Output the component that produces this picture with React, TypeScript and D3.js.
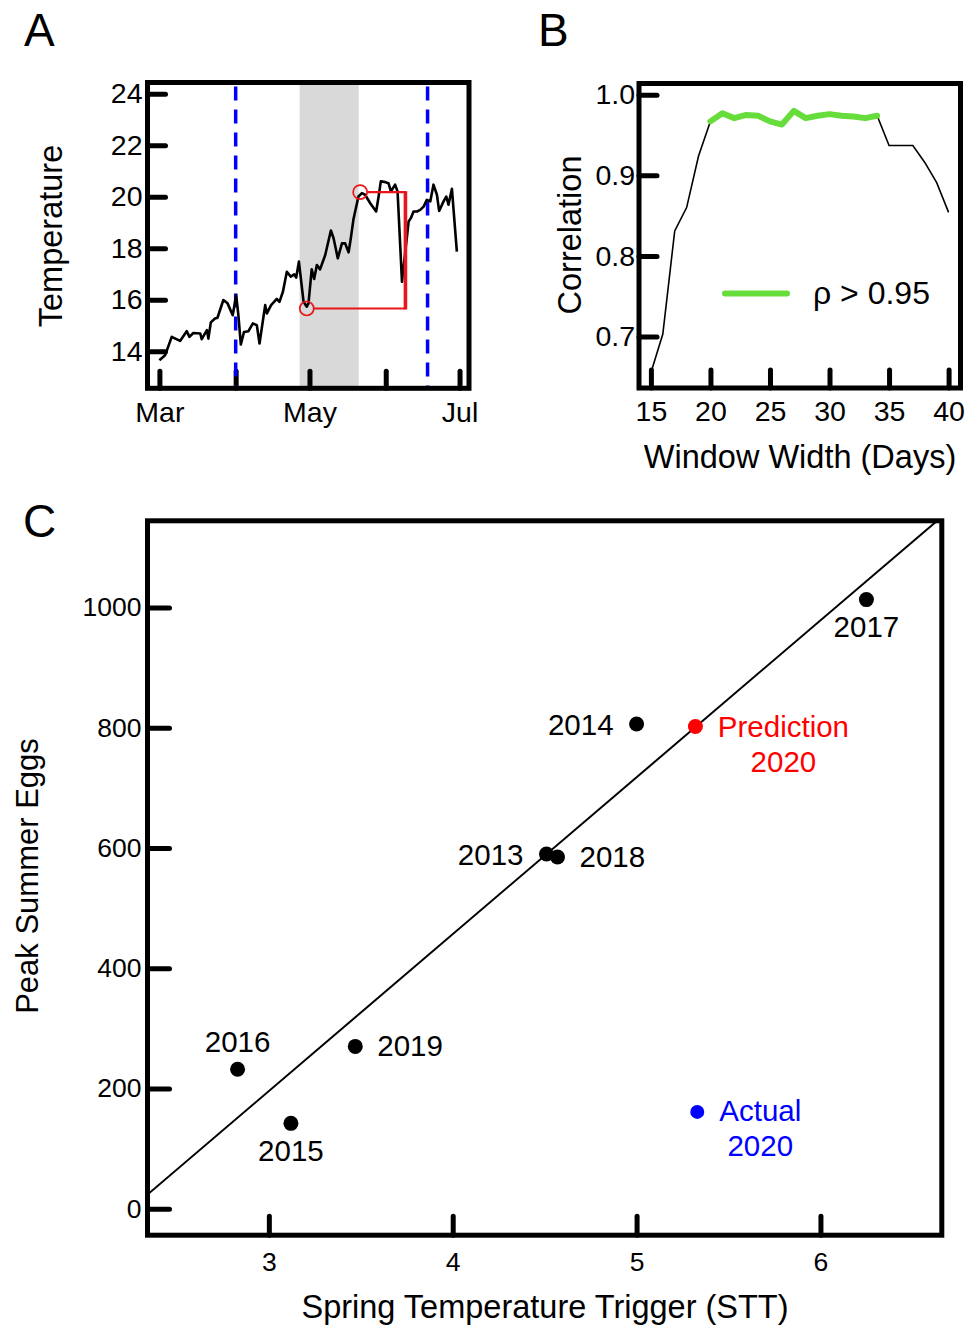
import React, { useEffect, useRef } from 'react';
import * as d3 from 'd3';

const FONT = '"Liberation Sans", Arial, Helvetica, sans-serif';

// A: daily water temperature, days counted from 1 March 2020
const tempDays = [
  0, 2.3, 5.0, 8.4, 11.1, 12.2, 13.8, 16.6, 17.2, 19.3, 19.9, 20.9, 22.6, 23.6, 26.0, 27.7,
  29.8, 31.2, 32.1, 33.1, 34.4, 36.2, 38.0, 39.6, 40.7, 43.0, 43.7, 45.4, 47.7, 48.8, 50.2,
  51.8, 53.4, 54.8, 55.6, 56.7, 58.6, 59.9, 60.6, 61.9, 62.9, 64.0, 65.3, 67.4, 69.7, 70.8,
  72.5, 74.2, 75.5, 76.9, 77.8, 78.9, 80.9, 82.3, 83.6, 85.7, 88.1, 89.1, 90.0, 91.8, 93.1,
  94.1, 95.8, 96.8, 98.6, 101.3, 102.2, 103.3, 104.7, 106.0, 107.4, 108.7, 110.1, 111.4,
  112.8, 113.7, 115.5, 116.6, 117.5, 118.9, 120.9
];
const tempValues = [
  13.65, 13.84, 14.56, 14.40, 14.78, 14.56, 14.71, 14.69, 14.47, 14.82, 14.49, 15.12, 15.27,
  15.30, 15.99, 15.86, 15.40, 16.18, 15.40, 14.26, 14.75, 14.78, 15.08, 15.01, 14.30, 15.79,
  15.47, 15.79, 16.03, 15.92, 16.31, 17.09, 16.90, 16.99, 16.86, 17.48, 15.92, 15.73, 15.86,
  17.18, 16.81, 17.35, 17.18, 17.74, 18.69, 18.39, 17.61, 18.19, 18.19, 17.84, 18.39, 19.14,
  20.01, 20.14, 20.08, 19.75, 19.43, 20.01, 20.60, 20.57, 20.53, 20.21, 20.47, 20.21, 16.70,
  19.04, 19.17, 19.43, 19.43, 19.49, 19.62, 19.88, 19.82, 20.47, 20.08, 19.45, 19.82, 20.01,
  19.69, 20.31, 17.87
];
const tempRange = ['2020-03-01', '2020-06-30'];
const tempYLim = [13, 24];
const tempYTicks = [14, 16, 18, 20, 22, 24];
const monthTicks = ['2020-03-01', '2020-04-01', '2020-05-01', '2020-06-01', '2020-07-01'];
const monthLabels = ['Mar', '', 'May', '', 'Jul'];
const dashedDates = ['2020-04-01', '2020-06-18'];
const shadeDates = ['2020-04-27', '2020-05-21'];
const sttDays = [59.9, 81.6, 100]; // low point, high point, end of box
const sttTemps = [15.66, 20.18];

// B: correlation vs window width
const windowWidths = [15, 16, 17, 18, 19, 20, 21, 22, 23, 24, 25, 26, 27, 28, 29, 30, 31, 32, 33, 34, 35, 36, 37, 38, 39, 40];
const correlations = [
  0.655, 0.703, 0.831, 0.86, 0.924, 0.967, 0.977, 0.971, 0.975, 0.974, 0.967, 0.963, 0.98,
  0.971, 0.974, 0.976, 0.974, 0.973, 0.971, 0.974, 0.937, 0.937, 0.937, 0.916, 0.891, 0.854
];
const corrThreshold = 0.95;
const corrXLim = [15, 40];
const corrYLim = [0.65, 1.0];
const corrXTicks = [15, 20, 25, 30, 35, 40];
const corrYTicks = [0.7, 0.8, 0.9, 1.0];

// C: peak summer eggs vs spring temperature trigger
const years = ['2013', '2014', '2015', '2016', '2017', '2018', '2019'];
const sttValues = [4.51, 5.0, 3.12, 2.83, 6.25, 4.57, 3.47];
const peakEggs = [590, 806, 142, 232, 1013, 585, 270];
const predSTT = 5.32;
const predEggs = 802;
const actualSTT = 5.33;
const actualEggs = 161;
const fitSlope = 260.9;
const fitIntercept = -587;
const eggXLim = [2.5, 6.5];
const eggYLim = [0, 1100];
const eggXTicks = [3, 4, 5, 6];
const eggYTicks = [0, 200, 400, 600, 800, 1000];

const parse = d3.timeParse('%Y-%m-%d');
const dayOf = (s: string) => d3.timeDay.count(parse(tempRange[0])!, parse(s)!);

// R style axis range: limits padded by 4%
function expand(lim: number[]) {
  const r = lim[1] - lim[0];
  return [lim[0] - 0.04 * r, lim[1] + 0.04 * r];
}

function styleAxis(g: any, size: number) {
  g.select('.domain').remove();
  g.selectAll('line').attr('stroke', '#000').attr('stroke-width', 5).attr('stroke-linecap', 'round');
  g.selectAll('text').attr('font-size', size).attr('font-family', FONT).attr('fill', '#000');
  g.attr('font-size', null).attr('font-family', null);
}

function frame(svg: any, x: any, y: any) {
  const [x0, x1] = x.range();
  const [y0, y1] = y.range();
  svg.append('rect')
    .attr('x', x0).attr('y', y1)
    .attr('width', x1 - x0).attr('height', y0 - y1)
    .attr('fill', 'none').attr('stroke', '#000').attr('stroke-width', 5);
}

function label(svg: any, text: string, x: number, y: number, size: number, rotate = false, anchor = 'middle', color = '#000') {
  svg.append('text')
    .attr('transform', `translate(${x},${y})${rotate ? ' rotate(-90)' : ''}`)
    .attr('text-anchor', anchor)
    .attr('font-size', size)
    .attr('font-family', FONT)
    .attr('fill', color)
    .text(text);
}

function drawA(svg: any) {
  const x = d3.scaleLinear().domain(expand([dayOf(tempRange[0]), dayOf(tempRange[1])])).range([147.5, 469]);
  const y = d3.scaleLinear().domain(expand(tempYLim)).range([388.3, 82.5]);
  const [top, bottom] = [y.range()[1], y.range()[0]];

  svg.append('rect')
    .attr('x', x(dayOf(shadeDates[0]))).attr('y', top)
    .attr('width', x(dayOf(shadeDates[1])) - x(dayOf(shadeDates[0])))
    .attr('height', bottom - top)
    .attr('fill', '#d9d9d9');

  const yAxis = d3.axisLeft(y).tickValues(tempYTicks).tickSize(-18).tickPadding(5);
  styleAxis(svg.append('g').attr('transform', `translate(${x.range()[0]},0)`).call(yAxis), 28.5);
  const xAxis = d3.axisBottom(x)
    .tickValues(monthTicks.map(dayOf))
    .tickFormat((_: any, i: number) => monthLabels[i])
    .tickSize(-17).tickPadding(13);
  styleAxis(svg.append('g').attr('transform', `translate(0,${bottom})`).call(xAxis), 28.5);

  svg.selectAll('line.dash')
    .data(dashedDates)
    .enter()
    .append('line')
    .attr('x1', (d: string) => x(dayOf(d))).attr('x2', (d: string) => x(dayOf(d)))
    .attr('y1', top + 4).attr('y2', bottom)
    .attr('stroke', '#0000ff').attr('stroke-width', 3.5).attr('stroke-dasharray', '14,9');

  const line = d3.line<number>()
    .x((_, i) => x(tempDays[i]))
    .y((d) => y(d));
  svg.append('path')
    .datum(tempValues)
    .attr('fill', 'none').attr('stroke', '#000').attr('stroke-width', 2.6)
    .attr('stroke-linejoin', 'round')
    .attr('d', line);

  const r = 7;
  const red = '#e8161b';
  svg.append('line')
    .attr('x1', x(sttDays[0]) + r).attr('x2', x(sttDays[2]))
    .attr('y1', y(sttTemps[0])).attr('y2', y(sttTemps[0]))
    .attr('stroke', red).attr('stroke-width', 2.2);
  svg.append('line')
    .attr('x1', x(sttDays[1]) + r).attr('x2', x(sttDays[2]))
    .attr('y1', y(sttTemps[1])).attr('y2', y(sttTemps[1]))
    .attr('stroke', red).attr('stroke-width', 2.2);
  svg.append('line')
    .attr('x1', x(sttDays[2])).attr('x2', x(sttDays[2]))
    .attr('y1', y(sttTemps[0]) + 1).attr('y2', y(sttTemps[1]) - 1)
    .attr('stroke', red).attr('stroke-width', 3.6);
  [0, 1].forEach((i) => {
    svg.append('circle')
      .attr('cx', x(sttDays[i])).attr('cy', y(sttTemps[i])).attr('r', r)
      .attr('fill', 'none').attr('stroke', red).attr('stroke-width', 1.7);
  });

  frame(svg, x, y);
  label(svg, 'Temperature', 62, 236, 32.5, true);
  label(svg, 'A', 24, 46, 46, false, 'start');
}

function drawB(svg: any) {
  const x = d3.scaleLinear().domain(expand(corrXLim)).range([639, 960.5]);
  const y = d3.scaleLinear().domain(expand(corrYLim)).range([388, 83.5]);

  const yAxis = d3.axisLeft(y).tickValues(corrYTicks).tickSize(-18).tickPadding(4)
    .tickFormat(d3.format('.1f'));
  styleAxis(svg.append('g').attr('transform', `translate(${x.range()[0]},0)`).call(yAxis), 28.5);
  const xAxis = d3.axisBottom(x).tickValues(corrXTicks).tickSize(-18).tickPadding(13);
  styleAxis(svg.append('g').attr('transform', `translate(0,${y.range()[0]})`).call(xAxis), 28.5);

  const line = d3.line<number>()
    .x((_, i) => x(windowWidths[i]))
    .y((d) => y(d));
  svg.append('path')
    .datum(correlations)
    .attr('fill', 'none').attr('stroke', '#000').attr('stroke-width', 1.6)
    .attr('d', line);

  const hiIdx = correlations.map((c, i) => (c > corrThreshold ? i : -1)).filter((i) => i >= 0);
  const green = '#66dd3a';
  svg.append('path')
    .datum(hiIdx)
    .attr('fill', 'none').attr('stroke', green).attr('stroke-width', 6)
    .attr('stroke-linejoin', 'round').attr('stroke-linecap', 'round')
    .attr('d', d3.line<number>().x((i) => x(windowWidths[i])).y((i) => y(correlations[i])));

  svg.append('line')
    .attr('x1', 725).attr('x2', 787).attr('y1', 293.5).attr('y2', 293.5)
    .attr('stroke', green).attr('stroke-width', 6).attr('stroke-linecap', 'round');
  label(svg, `ρ > ${corrThreshold}`, 813, 303.5, 32, false, 'start');

  frame(svg, x, y);
  label(svg, 'Correlation', 581, 235, 32.5, true);
  label(svg, 'Window Width (Days)', 800, 468, 32.5);
  label(svg, 'B', 538, 46, 46, false, 'start');
}

function drawC(svg: any) {
  const x = d3.scaleLinear().domain(expand(eggXLim)).range([147.5, 941.8]);
  const y = d3.scaleLinear().domain(expand(eggYLim)).range([1235.2, 520.8]);
  const [x0, x1] = x.range();
  const [y0, y1] = y.range();

  const yAxis = d3.axisLeft(y).tickValues(eggYTicks).tickSize(-22).tickPadding(6).tickFormat(d3.format('d'));
  styleAxis(svg.append('g').attr('transform', `translate(${x0},0)`).call(yAxis), 26.5);
  const xAxis = d3.axisBottom(x).tickValues(eggXTicks).tickSize(-19).tickPadding(17).tickFormat(d3.format('d'));
  styleAxis(svg.append('g').attr('transform', `translate(0,${y0})`).call(xAxis), 26.5);

  svg.append('clipPath').attr('id', 'clipC')
    .append('rect').attr('x', x0).attr('y', y1).attr('width', x1 - x0).attr('height', y0 - y1);
  const [d0, d1] = x.domain();
  svg.append('line')
    .attr('clip-path', 'url(#clipC)')
    .attr('x1', x(d0)).attr('y1', y(fitIntercept + fitSlope * d0))
    .attr('x2', x(d1)).attr('y2', y(fitIntercept + fitSlope * d1))
    .attr('stroke', '#000').attr('stroke-width', 2);

  svg.selectAll('circle.pt')
    .data(years)
    .enter()
    .append('circle')
    .attr('cx', (_: string, i: number) => x(sttValues[i]))
    .attr('cy', (_: string, i: number) => y(peakEggs[i]))
    .attr('r', 7.5)
    .attr('fill', '#000');

  // label placement per year: [anchor, dx, dy]
  const place: Record<string, [string, number, number]> = {
    '2013': ['end', -23, 11],
    '2014': ['end', -23, 11],
    '2015': ['middle', 0, 38],
    '2016': ['middle', 0, -17],
    '2017': ['middle', 0, 37],
    '2018': ['start', 22, 10],
    '2019': ['start', 22, 10]
  };
  years.forEach((yr, i) => {
    const [anchor, dx, dy] = place[yr];
    label(svg, yr, x(sttValues[i]) + dx, y(peakEggs[i]) + dy, 29.5, false, anchor);
  });

  const red = '#ff0000';
  const blue = '#0000ff';
  svg.append('circle').attr('cx', x(predSTT)).attr('cy', y(predEggs)).attr('r', 7.5).attr('fill', red);
  label(svg, 'Prediction', x(predSTT) + 88, y(predEggs) + 11, 29.5, false, 'middle', red);
  label(svg, '2020', x(predSTT) + 88, y(predEggs) + 46, 29.5, false, 'middle', red);

  svg.append('circle').attr('cx', x(actualSTT)).attr('cy', y(actualEggs)).attr('r', 7).attr('fill', blue);
  label(svg, 'Actual', x(actualSTT) + 63, y(actualEggs) + 9, 29.5, false, 'middle', blue);
  label(svg, '2020', x(actualSTT) + 63, y(actualEggs) + 44, 29.5, false, 'middle', blue);

  frame(svg, x, y);
  label(svg, 'Peak Summer Eggs', 38, 876, 31, true);
  label(svg, 'Spring Temperature Trigger (STT)', 545, 1318, 32.5);
  label(svg, 'C', 23, 537, 46, false, 'start');
}

function App() {
  const ref = useRef<SVGSVGElement>(null);

  useEffect(() => {
    if (!ref.current) return;
    const svg = d3.select(ref.current);
    svg.selectAll('*').remove();
    drawA(svg);
    drawB(svg);
    drawC(svg);
  }, []);

  return (
    <svg
      ref={ref}
      width={977}
      height={1327}
      style={{ position: 'absolute', left: 0, top: 0, background: '#fff' }}
    />
  );
}

export default App;
